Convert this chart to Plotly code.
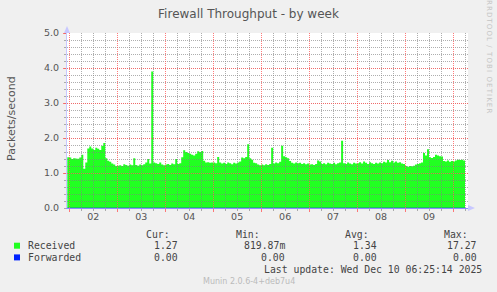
import pandas as pd
import plotly.graph_objects as go

# ---------------- data (hourly averages, packets/second) ----------------
start_time = "2025-12-01 23:00"
received = [
    # Dec 01 23:00
    1.45,
    # Dec 02
    1.44, 1.40, 1.43, None, 1.41, 1.44, 1.52, 1.12, 1.30, 1.70, 1.76, 1.70,
    1.66, 1.72, 1.69, 1.66, 1.78, 1.86, 1.42, 1.35, 1.32, 1.27, 1.24, 1.20,
    # Dec 03
    1.21, 1.22, 1.20, 1.25, 1.23, 1.21, 1.24, 1.22, 1.42, 1.23, 1.21, 1.24,
    1.22, 1.25, 1.30, 1.40, 1.27, 3.90, 1.30, 1.28, 1.26, 1.30, 1.24, 1.22,
    # Dec 04
    1.24, 1.26, 1.23, 1.27, 1.25, 1.40, 1.26, 1.28, 1.45, 1.65, 1.60, 1.57,
    1.55, 1.52, 1.50, 1.55, 1.62, 1.60, 1.63, 1.35, 1.30, 1.31, 1.29, 1.30,
    # Dec 05
    1.30, 1.28, 1.46, 1.30, 1.27, 1.29, 1.26, 1.30, 1.28, 1.25, 1.29, 1.27,
    1.30, 1.33, 1.44, 1.42, 1.46, 1.82, 1.42, 1.38, 1.29, 1.28, 1.24, 1.22,
    # Dec 06
    1.24, 1.22, 1.25, 1.23, 1.26, 1.72, 1.27, 1.30, 1.28, 1.32, 1.78, 1.48,
    1.45, 1.42, 1.34, 1.29, 1.27, 1.30, 1.28, 1.29, 1.26, 1.28, 1.25, 1.27,
    # Dec 07
    1.24, 1.25, 1.23, 1.26, 1.36, 1.33, 1.26, 1.28, 1.25, 1.29, 1.27, 1.26,
    1.29, 1.25, 1.28, 1.30, 1.92, 1.28, 1.26, 1.30, 1.27, 1.25, 1.29, 1.27,
    # Dec 08
    1.28, 1.31, 1.27, 1.33, 1.29, 1.26, 1.31, 1.28, 1.26, 1.29, 1.27, 1.30,
    1.28, 1.32, 1.30, 1.37, 1.31, 1.35, 1.30, 1.33, 1.29, 1.31, 1.27, 1.26,
    # Dec 09
    1.20, 1.18, 1.20, 1.19, 1.21, 1.24, 1.26, 1.28, 1.30, 1.57, 1.50, 1.68,
    1.45, 1.43, 1.46, 1.52, 1.50, 1.48, 1.47, 1.34, 1.33, 1.36, 1.32, 1.34,
    # Dec 10
    1.33, 1.36, 1.38, 1.37, 1.38, 1.36, 1.36,
]
forwarded = [0.0] * len(received)   # all readings are 0.00

series_names = ["Received", "Forwarded"]
series_colors = ["#22FF22", "#0022FF"]
cur_vals = ["1.27", "0.00"]
min_vals = ["819.87m", "0.00"]
avg_vals = ["1.34", "0.00"]
max_vals = ["17.27", "0.00"]
last_update = "Last update: Wed Dec 10 06:25:14 2025"
version_text = "Munin 2.0.6-4+deb7u4"
x_range = ["2025-12-01 22:51", "2025-12-10 07:30"]
y_range = [0, 5]
y_ticks = [1, 2, 3, 4, 5]

times = pd.date_range(start_time, periods=len(received), freq="h")

# ---------------- layout geometry ----------------
W, H = 497, 292
L, R, T, B = 67, 29, 33, 84
PW, PH = W - L - R, H - T - B


def px(x):
    return (x - L) / PW


def py(y):
    return (H - B - y) / PH


FONT = "DejaVu Sans"
MONO = "DejaVu Sans Mono"
TXT = "#555555"
LEG = "#444444"
AXIS = "#c8c8ff"
MAJ = "rgba(255,90,90,0.8)"
MIN_ = "rgba(130,130,130,0.65)"

fig = go.Figure()
fig.add_trace(go.Scatter(
    x=times, y=received, mode="lines", line=dict(width=0, shape="hv", color="#22FF22"),
    fill="tozeroy", fillcolor="#22FF22", connectgaps=False, hoverinfo="skip",
    showlegend=False, xaxis="x", yaxis="y"))
fig.add_trace(go.Scatter(
    x=times, y=forwarded, mode="lines", line=dict(width=1.2, color="#0022FF"),
    opacity=0.5, hoverinfo="skip", showlegend=False, xaxis="x", yaxis="y"))

fig.update_layout(
    width=W, height=H,
    margin=dict(l=L, r=R, t=T, b=B, pad=0),
    paper_bgcolor="#F0F0F0",
    plot_bgcolor="rgba(0,0,0,0)",
    showlegend=False,
    title=dict(text="Firewall Throughput - by week", x=0.5, xref="container",
               y=1 - 14 / H, yref="container", xanchor="center", yanchor="middle",
               font=dict(family=FONT, size=12, color=TXT)),
    xaxis=dict(type="date", range=x_range, domain=[0, 1], anchor="y",
               tick0="2025-12-02 12:00", dtick=86400000, tickformat="%d",
               showgrid=False, zeroline=False, ticks="", showline=True,
               linecolor="#8c8cff", linewidth=1,
               tickfont=dict(family=FONT, size=9.5, color=TXT)),
    yaxis=dict(range=y_range, domain=[0, 1], anchor="x", tick0=0, dtick=1,
               tickformat=".1f", showgrid=False, zeroline=False, ticks="",
               showline=True, linecolor=AXIS, linewidth=1, ticklabelstandoff=5,
               tickfont=dict(family=FONT, size=9.5, color=TXT)),
    xaxis2=dict(type="date", range=x_range, domain=[0, 1], anchor="y2",
                tick0="2025-12-02 00:00", dtick=86400000, showticklabels=False,
                showgrid=True, gridcolor=MAJ, griddash="1px,1px", gridwidth=1,
                zeroline=False, ticks="outside", ticklen=3, tickcolor=MAJ,
                minor=dict(dtick=21600000, showgrid=True, gridcolor=MIN_,
                           griddash="1px,1px", gridwidth=1, ticks="outside",
                           ticklen=2, tickcolor=MIN_)),
    yaxis2=dict(range=y_range, domain=[0, 1], anchor="x2", tickmode="array",
                tickvals=y_ticks, showticklabels=False,
                showgrid=True, gridcolor=MAJ, griddash="1px,1px", gridwidth=1,
                zeroline=False, ticks="outside", ticklen=3, tickcolor=MAJ,
                minor=dict(tickmode="linear", tick0=0, dtick=0.2, showgrid=True,
                           gridcolor=MIN_, griddash="1px,1px", gridwidth=1,
                           ticks="outside", ticklen=2, tickcolor=MIN_)),
)

# invisible trace to activate the grid subplot drawn above the data
fig.add_trace(go.Scatter(x=[times[0]], y=[0], mode="markers", marker=dict(opacity=0),
                         hoverinfo="skip", showlegend=False, xaxis="x2", yaxis="y2"))

shapes = [
    # white plot background below everything
    dict(type="rect", xref="paper", yref="paper", x0=0, x1=1, y0=0, y1=1,
         fillcolor="white", line=dict(width=0), layer="below"),
    # axis arrows
    dict(type="path", xref="paper", yref="paper",
         path=f"M {px(64)} {py(33)} L {px(67)} {py(26)} L {px(70)} {py(33)} Z",
         fillcolor=AXIS, line=dict(width=0)),
    dict(type="path", xref="paper", yref="paper",
         path=f"M {px(468)} {py(205)} L {px(475)} {py(208)} L {px(468)} {py(211)} Z",
         fillcolor=AXIS, line=dict(width=0)),
]
leg_rows_y = [245.7, 257.4]
for i, c in enumerate(series_colors):
    yc = leg_rows_y[i]
    shapes.append(dict(type="rect", xref="paper", yref="paper",
                       x0=px(14), x1=px(20), y0=py(yc - 3), y1=py(yc + 3),
                       fillcolor=c, line=dict(width=0)))

ann = []


def add_text(text, x, y, anchor="left", size=9.8, color=LEG, family=MONO, angle=0):
    ann.append(dict(text=text, x=px(x), y=py(y), xref="paper", yref="paper",
                    xanchor=anchor, yanchor="middle", showarrow=False,
                    textangle=angle, borderpad=0,
                    font=dict(family=family, size=size, color=color)))


add_text("Packets/second", 11, 119, "center", size=11, color=TXT, family=FONT, angle=-90)
add_text('<span style="letter-spacing:1.1px">RRDTOOL / TOBI OETIKER</span>',
         489, 57, "center", size=7, color="#c4c4c4", family=FONT, angle=90)

col_head_x = [171, 261, 370, 469]
col_val_x = [179, 286, 378, 478]
for hx, htxt in zip(col_head_x, ["Cur:", "Min:", "Avg:", "Max:"]):
    add_text(htxt, hx, 234, "right")
for i, name in enumerate(series_names):
    yc = leg_rows_y[i]
    add_text(name, 27, yc, "left")
    for vx, vals in zip(col_val_x, [cur_vals, min_vals, avg_vals, max_vals]):
        add_text(vals[i], vx, yc, "right")
add_text(last_update, 483, 269, "right")
add_text(version_text, 249, 281, "center", size=8, color="#bbbbbb", family=FONT)

fig.update_layout(shapes=shapes, annotations=ann)
fig.write_html("out.html")
